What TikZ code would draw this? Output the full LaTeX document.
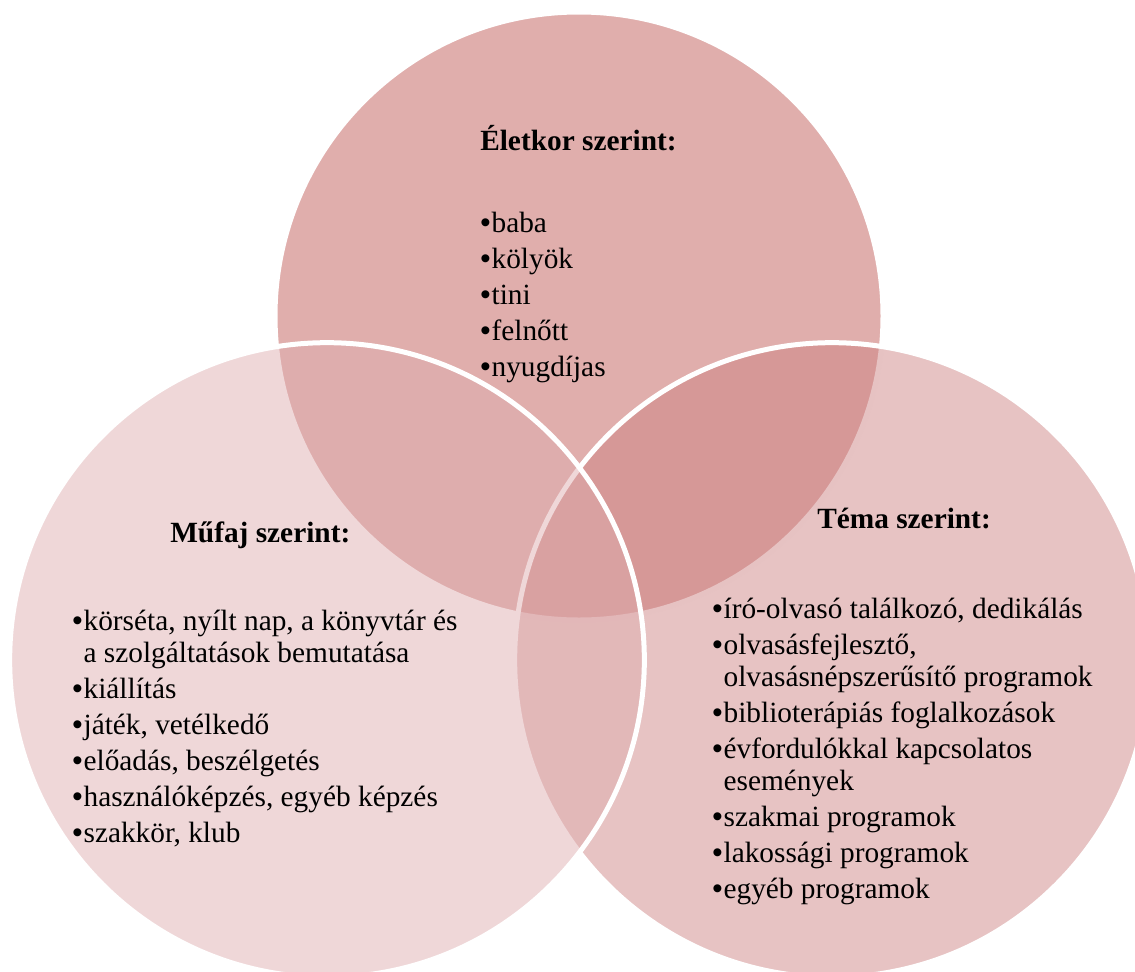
\documentclass[tikz,border=0pt]{standalone}
\usepackage{fontspec}
\setmainfont{Liberation Serif}
\newfontfamily\pontfont{Liberation Sans}
\usetikzlibrary{positioning}

\definecolor{eletkor}{RGB}{190,86,82}
\definecolor{tema}{RGB}{204,129,129}
\definecolor{mufaj}{RGB}{222,172,174}

\tikzset{
	kor/.style={draw=white, line width=3.75pt, fill opacity=0.48},
	cim/.style={font=\bfseries\fontsize{22}{26}\selectfont, inner sep=0pt, anchor=base west},
	% base of a multi-line node = baseline of its last line
	lista/.style={font=\fontsize{22}{24}\selectfont, align=left, inner sep=0pt, anchor=base west},
}
% bullet and hanging indent for the lists
\newcommand{\pont}{\makebox[8.5pt][l]{\pontfont\textbullet}}
\newcommand{\beh}{\hspace*{8.5pt}}

\begin{document}
\begin{tikzpicture}[x=0.75pt, y=-0.75pt]
	\useasboundingbox (0,0) rectangle (1135,971);
	
	\coordinate (ctop) at (579,316);
	\coordinate (cleft) at (327,660);
	\coordinate (cright) at (832,660);
	
	% circles: top, right, left
	\path[kor, fill=eletkor] (ctop) circle[radius=228pt];
	\path[kor, fill=tema] (cright) circle[radius=238pt];
	\path[kor, fill=mufaj] (cleft) circle[radius=238pt];
	
	\node (eletkorcim) [cim] at (480,150) {Életkor szerint:};
	\node (eletkorlista) [lista] at (480,376) {\pont baba\\[3pt]
		\pont kölyök\\[3pt]
		\pont tini\\[3pt]
		\pont felnőtt\\[3pt]
		\pont nyugdíjas};
	
	\node (mufajcim) [cim] at (170,542) {Műfaj szerint:};
	\node (mufajlista) [lista] at (72,842) {\pont körséta, nyílt nap, a könyvtár és\\
		\beh a szolgáltatások bemutatása\\[3pt]
		\pont kiállítás\\[3pt]
		\pont játék, vetélkedő\\[3pt]
		\pont előadás, beszélgetés\\[3pt]
		\pont használóképzés, egyéb képzés\\[3pt]
		\pont szakkör, klub};
	
	\node (temacim) [cim] at (817,528) {Téma szerint:};
	\node (temalista) [lista] at (712,898) {\pont író-olvasó találkozó, dedikálás\\[3pt]
		\pont olvasásfejlesztő,\\
		\beh olvasásnépszerűsítő programok\\[3pt]
		\pont biblioterápiás foglalkozások\\[3pt]
		\pont évfordulókkal kapcsolatos\\
		\beh események\\[3pt]
		\pont szakmai programok\\[3pt]
		\pont lakossági programok\\[3pt]
		\pont egyéb programok};
	
\end{tikzpicture}
\end{document}
